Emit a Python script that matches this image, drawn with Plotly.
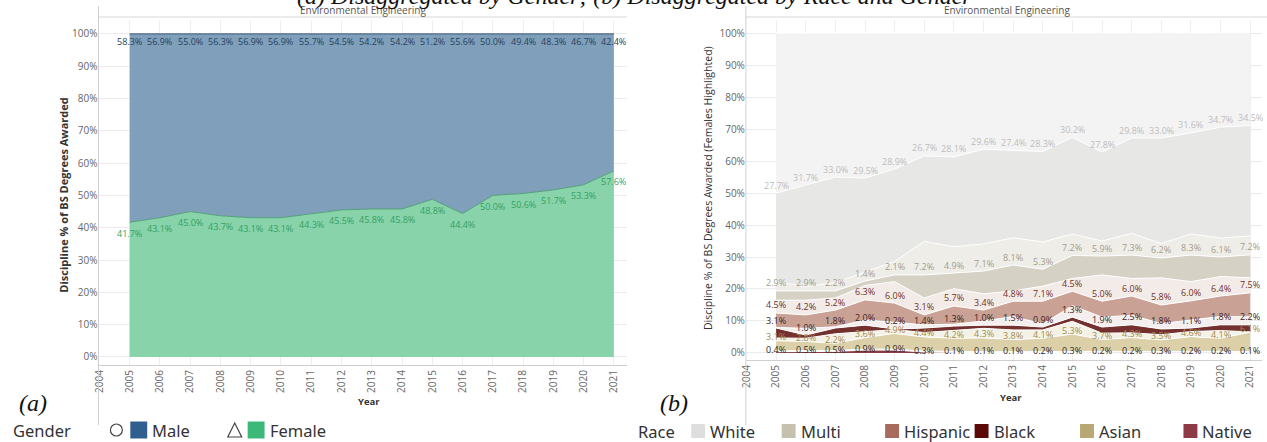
import numpy as np
import plotly.graph_objects as go

W, H = 1267, 442
years = list(range(2005, 2022))
tick_years = list(range(2004, 2022))

# Panel (a): gender shares
female_pct = [41.7, 43.1, 45.0, 43.7, 43.1, 43.1, 44.3, 45.5, 45.8, 45.8, 48.8, 44.4, 50.0, 50.6, 51.7, 53.3, 57.6]
male_pct = [58.3, 56.9, 55.0, 56.3, 56.9, 56.9, 55.7, 54.5, 54.2, 54.2, 51.2, 55.6, 50.0, 49.4, 48.3, 46.7, 42.4]

# Panel (b): female shares by race (labelled) and estimated male shares by race
white_f = [27.7, 31.7, 33.0, 29.5, 28.9, 26.7, 28.1, 29.6, 27.4, 28.3, 30.2, 27.8, 29.8, 33.0, 31.6, 34.7, 34.5]
multi_f = [2.9, 2.9, 2.2, 1.4, 2.1, 7.2, 4.9, 7.1, 8.1, 5.3, 7.2, 5.9, 7.3, 6.2, 8.3, 6.1, 7.2]
hisp_f = [4.5, 4.2, 5.2, 6.3, 6.0, 3.1, 5.7, 3.4, 4.8, 7.1, 4.5, 5.0, 6.0, 5.8, 6.0, 6.4, 7.5]
black_f = [3.1, 1.0, 1.8, 2.0, 0.2, 1.4, 1.3, 1.0, 1.5, 0.9, 1.3, 1.9, 2.5, 1.8, 1.1, 1.8, 2.2]
asian_f = [3.1, 2.8, 2.2, 3.6, 4.9, 4.4, 4.2, 4.3, 3.8, 4.1, 5.3, 3.7, 4.3, 3.5, 4.6, 4.1, 6.1]
native_f = [0.4, 0.5, 0.5, 0.9, 0.9, 0.3, 0.1, 0.1, 0.1, 0.2, 0.3, 0.2, 0.2, 0.3, 0.2, 0.2, 0.1]

white_m = [50.0, 47.5, 45.0, 45.3, 42.5, 38.4, 38.7, 36.3, 36.6, 36.9, 32.5, 37.2, 32.8, 32.8, 31.2, 29.4, 29.0]
multi_m = [2.9, 1.4, 2.6, 2.7, 4.2, 10.5, 8.2, 8.5, 8.5, 8.5, 6.7, 4.7, 6.8, 4.5, 6.6, 5.9, 5.9]
hisp_m = [4.0, 4.6, 3.8, 4.5, 6.7, 5.3, 5.4, 5.1, 3.2, 4.7, 4.0, 8.2, 5.5, 8.5, 6.0, 6.1, 4.7]
black_m = [0.2, 2.1, 0.4, 1.6, 2.1, 1.0, 0.6, 1.3, 2.7, 1.0, 3.6, 3.1, 3.0, 1.7, 2.5, 2.6, 2.5]
asian_m = [0.9, 1.0, 3.0, 1.9, 1.2, 1.4, 2.5, 3.0, 3.0, 2.6, 4.0, 2.0, 1.5, 1.6, 1.6, 2.4, 0.1]
native_m = [0.3, 0.3, 0.3, 0.3, 0.3, 0.3, 0.3, 0.3, 0.3, 0.3, 0.3, 0.3, 0.3, 0.3, 0.3, 0.3, 0.3]

races = ["Native", "Asian", "Black", "Hispanic", "Multi", "White"]
race_f = [native_f, asian_f, black_f, hisp_f, multi_f, white_f]
race_m = [native_m, asian_m, black_m, hisp_m, multi_m, white_m]
fill_f = ["#8b3c44", "#dbd0a8", "#74302f", "#c9a195", "#d6d1c5", "#e7e7e5"]
fill_m = ["#efe2e2", "#f4f1e6", "#f4eeee", "#f3ebe8", "#efede8", "#f3f3f3"]
label_col = ["#2b2b2b", "#a38d4f", "#3a2424", "#6e3328", "#a39d8c", "#bdbdbd"]
label_shift = [2, 4, 8, 8, 8, 8]

legend_race = ["White", "Multi", "Hispanic", "Black", "Asian", "Native"]
legend_race_col = ["#dedede", "#c6c0ae", "#a86a5a", "#5a0808", "#b8a874", "#8e3a46"]


def px(x):
    return x / W


def py(y):
    return 1 - y / H


FONT = "Open Sans"
fig = go.Figure()
annotations = []

# ---------- Panel (a) ----------
fig.add_trace(go.Scatter(x=years, y=female_pct, mode="lines", fill="tozeroy",
                         fillcolor="#88d3a9", line=dict(color="#52a07c", width=1),
                         xaxis="x", yaxis="y", hoverinfo="skip"))
top_a = [f + m for f, m in zip(female_pct, male_pct)]
fig.add_trace(go.Scatter(x=years, y=top_a, mode="lines", fill="tonexty",
                         fillcolor="#809fba", line=dict(color="#4d6a88", width=1.2),
                         xaxis="x", yaxis="y", hoverinfo="skip"))
for yr, fv, tv, mv in zip(years, female_pct, top_a, male_pct):
    annotations.append(dict(x=yr, y=fv, xref="x", yref="y", text=f"{fv:.1f}%", showarrow=False,
                            yshift=-11, xanchor="center", yanchor="middle",
                            font=dict(family=FONT, size=9, color="#33a165")))
    annotations.append(dict(x=yr, y=tv, xref="x", yref="y", text=f"{mv:.1f}%", showarrow=False,
                            yshift=-8, xanchor="center", yanchor="middle",
                            font=dict(family=FONT, size=9, color="#243f5e")))

# ---------- Panel (b) ----------
for name, f, m, cf, cm in zip(races, race_f, race_m, fill_f, fill_m):
    fig.add_trace(go.Scatter(x=years, y=f, mode="lines", stackgroup="race",
                             fillcolor=cf, line=dict(color="white", width=1),
                             xaxis="x2", yaxis="y2", hoverinfo="skip", name=name + " F"))
    fig.add_trace(go.Scatter(x=years, y=m, mode="lines", stackgroup="race",
                             fillcolor=cm, line=dict(color="white", width=1),
                             xaxis="x2", yaxis="y2", hoverinfo="skip", name=name + " M"))

layers = []
for f, m in zip(race_f, race_m):
    layers.append(np.array(f))
    layers.append(np.array(m))
cum = np.cumsum(np.vstack(layers), axis=0)
for i, (f, col, sh) in enumerate(zip(race_f, label_col, label_shift)):
    for yr, top, v in zip(years, cum[2 * i], f):
        annotations.append(dict(x=yr, y=float(top), xref="x2", yref="y2", text=f"{v:.1f}%",
                                showarrow=False, yshift=sh, xanchor="center", yanchor="middle",
                                font=dict(family=FONT, size=9, color=col)))

pct_ticks = list(range(0, 101, 10))
common_x = dict(tickvals=tick_years, ticktext=[str(y) for y in tick_years], tickangle=-90,
                showgrid=True, gridcolor="#eeeeee", showline=True, linecolor="#cfcfcf",
                zeroline=False, ticks="", tickfont=dict(family=FONT, size=10, color="#666666"))
common_y = dict(tickvals=pct_ticks, ticktext=[f"{v}%" for v in pct_ticks],
                showgrid=True, gridcolor="#ebebeb", showline=False, zeroline=False, ticks="",
                tickfont=dict(family=FONT, size=10, color="#666666"))

fig.update_layout(
    width=W, height=H, margin=dict(l=0, r=0, t=0, b=0),
    paper_bgcolor="white", plot_bgcolor="white", showlegend=False,
    xaxis=dict(domain=[px(92), px(623)], range=[2003.97, 2021.42], anchor="y", **common_x),
    yaxis=dict(domain=[py(365), py(20)], range=[-2.5, 104.3], anchor="x", **common_y),
    xaxis2=dict(domain=[px(743), px(1262)], range=[2003.98, 2021.4], anchor="y2", **common_x),
    yaxis2=dict(domain=[py(360), py(20)], range=[-2.2, 104.1], anchor="x2", **common_y),
)

shapes = []
# axis / header lines
for x0, x1 in [(92, 623), (743, 1267)]:
    shapes.append(dict(type="line", xref="paper", yref="paper", x0=px(x0), x1=px(x1),
                       y0=py(17), y1=py(17), line=dict(color="#d6d6d6", width=1)))
    shapes.append(dict(type="line", xref="paper", yref="paper", x0=px(x0), x1=px(x0),
                       y0=py(6), y1=py(425), line=dict(color="#cfcfcf", width=1)))

# headers
for xc in [358, 1006]:
    annotations.append(dict(text="Environmental Engineering", x=px(xc), y=py(10), xref="paper", yref="paper",
                            showarrow=False, font=dict(family=FONT, size=10, color="#555555"),
                            xanchor="center", yanchor="middle"))
# top title (mostly clipped)
annotations.append(dict(text="<i>(a) Disaggregated by Gender; (b) Disaggregated by Race and Gender</i>",
                        x=px(631), y=py(-4), xref="paper", yref="paper", showarrow=False,
                        font=dict(family="Liberation Serif", size=24, color="#111111"),
                        xanchor="center", yanchor="middle"))
# axis titles
annotations.append(dict(text="<b>Discipline % of BS Degrees Awarded</b>", x=px(56), y=py(195),
                        xref="paper", yref="paper", showarrow=False, textangle=-90,
                        font=dict(family=FONT, size=11, color="#333333"), xanchor="center", yanchor="middle"))
annotations.append(dict(text="Discipline % of BS Degrees Awarded (Females Highlighted)", x=px(705), y=py(188),
                        xref="paper", yref="paper", showarrow=False, textangle=-90,
                        font=dict(family=FONT, size=10.5, color="#333333"), xanchor="center", yanchor="middle"))
for xc, yc in [(364, 401), (1010, 397)]:
    annotations.append(dict(text="<b>Year</b>", x=px(xc), y=py(yc), xref="paper", yref="paper",
                            showarrow=False, font=dict(family=FONT, size=9.5, color="#333333"),
                            xanchor="center", yanchor="middle"))
# panel letters
for t, xl in [("(a)", 10), ("(b)", 655)]:
    annotations.append(dict(text=f"<i>{t}</i>", x=px(xl), y=py(403), xref="paper", yref="paper",
                            showarrow=False, font=dict(family="Liberation Serif", size=24, color="#111111"),
                            xanchor="left", yanchor="middle"))

# legends
LEG = dict(family="Noto Sans", size=16.5, color="#333333")
def leg_text(t, xl, yc):
    annotations.append(dict(text=t, x=px(xl), y=py(yc), xref="paper", yref="paper", showarrow=False,
                            font=LEG, xanchor="left", yanchor="middle", borderpad=0))

def leg_square(xl, yc, col, s=15):
    shapes.append(dict(type="rect", xref="paper", yref="paper", x0=px(xl), x1=px(xl + s),
                       y0=py(yc + s / 2), y1=py(yc - s / 2), fillcolor=col, line=dict(width=0)))

leg_text("Gender", 5, 430)
# circle symbol (male) and triangle symbol (female)
shapes.append(dict(type="circle", xref="paper", yref="paper", x0=px(104), x1=px(116),
                   y0=py(436), y1=py(424), line=dict(color="#444444", width=1.2), fillcolor="rgba(0,0,0,0)"))
shapes.append(dict(type="path", xref="paper", yref="paper",
                   path=f"M {px(222)} {py(437)} L {px(236)} {py(437)} L {px(229)} {py(423)} Z",
                   line=dict(color="#444444", width=1.2), fillcolor="rgba(0,0,0,0)"))
leg_square(124, 430, "#2f5f8e", 17)
leg_text("Male", 145, 430)
leg_square(242, 430, "#3cb878", 17)
leg_text("Female", 263, 430)

leg_text("Race", 633, 431)
race_leg_x = [688, 779, 883, 973, 1079, 1183]
for name, col, xl in zip(legend_race, legend_race_col, race_leg_x):
    leg_square(xl, 431, col, 14)
    leg_text(name, xl + 18, 431)

fig.update_layout(shapes=shapes, annotations=annotations)
fig.write_html("out.html", config={"displayModeBar": False},
               post_script="document.body.style.margin='0';document.body.style.overflow='hidden';")
